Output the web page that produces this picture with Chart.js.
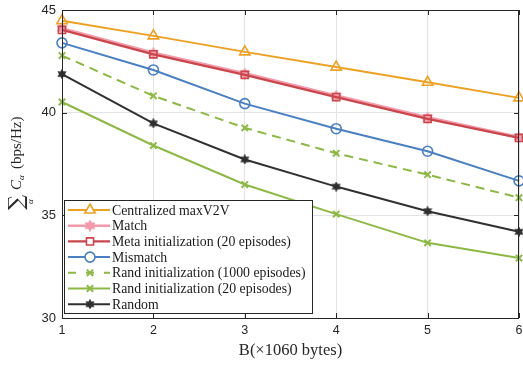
<!DOCTYPE html>
<html>
<head>
<meta charset="utf-8">
<script src="https://cdn.jsdelivr.net/npm/chart.js@4.4.1/dist/chart.umd.min.js"></script>
<style>
  html, body { margin: 0; padding: 0; background: #fff; }
  #wrap { width: 523px; height: 365px; }
</style>
</head>
<body>
<div id="wrap"><canvas id="chart" width="523" height="365"></canvas></div>
<script>
const bytes = [1, 2, 3, 4, 5, 6];
const yTicks = [30, 35, 40, 45];

const centralized = [44.48, 43.74, 42.96, 42.22, 41.48, 40.72];
const match = [44.10, 42.90, 41.90, 40.82, 39.76, 38.80];
const metaInit = [44.03, 42.84, 41.84, 40.76, 39.70, 38.77];
const mismatch = [43.40, 42.08, 40.44, 39.22, 38.12, 36.68];
const rand1000 = [42.78, 40.82, 39.26, 38.02, 36.98, 35.86];
const rand20 = [40.52, 38.40, 36.50, 35.06, 33.66, 32.92];
const random = [41.88, 39.48, 37.72, 36.40, 35.20, 34.20];

const LABELS = [
  'Centralized maxV2V',
  'Match',
  'Meta initialization (20 episodes)',
  'Mismatch',
  'Rand initialization (1000 episodes)',
  'Rand initialization (20 episodes)',
  'Random',
];

const ORANGE = '#EDA124';
const PINK = '#F39AAB';
const RED = '#C9474C';
const BLUE = '#4A7FC1';
const GREEN = '#8DB846';
const BLACK = '#303030';

// six-point star marker, like matlab's hexagram
function hexagram(color, size, fill) {
  const c = document.createElement('canvas');
  c.width = size; c.height = size;
  const g = c.getContext('2d');
  const cx = size / 2, cy = size / 2, ro = size / 2 - 1, ri = ro * 0.58;
  g.beginPath();
  for (let i = 0; i < 12; i++) {
    const r = i % 2 ? ri : ro;
    const a = -Math.PI / 2 + i * Math.PI / 6;
    const x = cx + r * Math.cos(a), y = cy + r * Math.sin(a);
    i ? g.lineTo(x, y) : g.moveTo(x, y);
  }
  g.closePath();
  g.fillStyle = fill;
  g.fill();
  g.strokeStyle = color;
  g.lineWidth = 1.3;
  g.stroke();
  return c;
}

const pinkStar = hexagram(PINK, 12, PINK);
const blackStar = hexagram(BLACK, 10, BLACK);

function series(label, data, color, extra) {
  return Object.assign({
    label,
    data,
    borderColor: color,
    backgroundColor: color,
    borderWidth: 2,
    pointRadius: 5,
    pointBorderWidth: 1.6,
    pointBackgroundColor: 'rgba(255,255,255,0)',
    pointBorderColor: color,
    tension: 0,
    fill: false,
    clip: false,
    order: 0,
  }, extra || {});
}

const datasets = [
  series(LABELS[0], centralized, ORANGE, { pointStyle: 'triangle', pointRadius: 6 }),
  series(LABELS[1], match, PINK, { pointStyle: pinkStar, borderWidth: 3.2, order: 1 }),
  series(LABELS[2], metaInit, RED, { pointStyle: 'rect', pointRadius: 5, borderWidth: 2.2 }),
  series(LABELS[3], mismatch, BLUE, { pointStyle: 'circle', pointRadius: 5 }),
  series(LABELS[4], rand1000, GREEN, { pointStyle: 'crossRot', pointRadius: 4.5, pointBorderWidth: 2, borderDash: [9, 6] }),
  series(LABELS[5], rand20, GREEN, { pointStyle: 'crossRot', pointRadius: 4.5, pointBorderWidth: 2 }),
  series(LABELS[6], random, BLACK, { pointStyle: blackStar }),
];

// draws the axis box, inward ticks, x tick labels, y label and the legend
const decor = {
  id: 'decor',
  afterDatasetsDraw(chart) {
    const { ctx, chartArea: a, scales: { x, y } } = chart;
    ctx.save();
    ctx.strokeStyle = '#262626';
    ctx.lineWidth = 1;
    ctx.strokeRect(a.left + 0.5, a.top + 0.5, a.right - a.left - 1, a.bottom - a.top);
    ctx.beginPath();
    bytes.forEach(v => {
      const px = Math.round(x.getPixelForValue(v)) + 0.5;
      ctx.moveTo(px, a.bottom); ctx.lineTo(px, a.bottom - 5);
      ctx.moveTo(px, a.top); ctx.lineTo(px, a.top + 5);
    });
    yTicks.forEach(v => {
      const py = Math.round(y.getPixelForValue(v)) + 0.5;
      ctx.moveTo(a.left, py); ctx.lineTo(a.left + 5, py);
      ctx.moveTo(a.right, py); ctx.lineTo(a.right - 5, py);
    });
    ctx.stroke();

    ctx.fillStyle = '#262626';
    ctx.font = '12.5px "Liberation Sans"';
    ctx.textAlign = 'center';
    ctx.textBaseline = 'middle';
    bytes.forEach(v => ctx.fillText(String(v), x.getPixelForValue(v), a.bottom + 13));
    ctx.textAlign = 'left';

    // y axis label: sum_a C_alpha (bps/Hz)
    ctx.translate(21, 160);
    ctx.rotate(-Math.PI / 2);
    ctx.textBaseline = 'alphabetic';
    ctx.font = '21px "DejaVu Serif"';
    ctx.fillText('\u2211', -50, 2);
    ctx.font = 'italic 9px "Liberation Serif"';
    ctx.fillText('\u03b1', -44, 12);
    ctx.font = 'italic 15px "Liberation Serif"';
    ctx.fillText('C', -30, 0);
    ctx.font = 'italic 9px "Liberation Serif"';
    ctx.fillText('\u03b1', -20, 3);
    ctx.font = '15px "Liberation Serif"';
    ctx.fillText('(bps/Hz)', -9, 0);
    ctx.setTransform(1, 0, 0, 1, 0, 0);

    // legend box
    const lx = 64, ly = 200, lw = 248, lh = 113;
    ctx.fillStyle = '#fff';
    ctx.fillRect(lx, ly, lw, lh);
    ctx.strokeStyle = '#262626';
    ctx.lineWidth = 1;
    ctx.strokeRect(lx + 0.5, ly + 0.5, lw, lh);
    ctx.font = '13.8px "Liberation Serif"';
    ctx.textBaseline = 'middle';
    chart.data.datasets.forEach((ds, i) => {
      const ry = ly + 10 + i * 15.7;
      ctx.strokeStyle = ds.borderColor;
      ctx.lineWidth = Math.min(ds.borderWidth, 2.5);
      ctx.setLineDash(ds.borderDash ? [8, 10] : []);
      ctx.beginPath();
      ctx.moveTo(lx + 4, ry);
      ctx.lineTo(lx + 46, ry);
      ctx.stroke();
      ctx.setLineDash([]);
      ctx.lineWidth = ds.pointBorderWidth;
      ctx.fillStyle = '#fff';
      Chart.helpers.drawPoint(ctx, {
        pointStyle: ds.pointStyle,
        radius: ds.pointRadius,
        borderWidth: ds.pointBorderWidth,
        rotation: 0,
      }, lx + 26, ry);
      ctx.fillStyle = '#1a1a1a';
      ctx.fillText(ds.label, lx + 48, ry + 1);
    });
    ctx.restore();
  },
};

new Chart(document.getElementById('chart'), {
  type: 'line',
  data: { labels: bytes, datasets },
  plugins: [decor],
  options: {
    responsive: false,
    animation: false,
    layout: { autoPadding: false, padding: { top: 10, right: 4, left: 0, bottom: 0 } },
    plugins: { legend: { display: false }, tooltip: { enabled: false } },
    scales: {
      x: {
        type: 'linear',
        min: 1,
        max: 6,
        afterFit: s => { s.height = 47; s.paddingLeft = 0; s.paddingRight = 0; },
        afterBuildTicks: s => { s.ticks = bytes.map(v => ({ value: v })); },
        grid: { color: '#e4e4e4', drawTicks: false },
        border: { display: false },
        ticks: { display: false },
        title: {
          display: true,
          text: 'B(\u00d71060 bytes)',
          color: '#262626',
          padding: { top: 3, bottom: 4 },
          font: { family: 'Liberation Serif', size: 16.5 },
        },
      },
      y: {
        min: 30,
        max: 45,
        afterFit: s => { s.width = 62; s.paddingTop = 0; s.paddingBottom = 0; },
        afterBuildTicks: s => { s.ticks = yTicks.map(v => ({ value: v })); },
        grid: { color: '#e4e4e4', drawTicks: false },
        border: { display: false },
        ticks: { color: '#262626', padding: 6, font: { family: 'Liberation Sans', size: 13 } },
      },
    },
  },
});
</script>
</body>
</html>
